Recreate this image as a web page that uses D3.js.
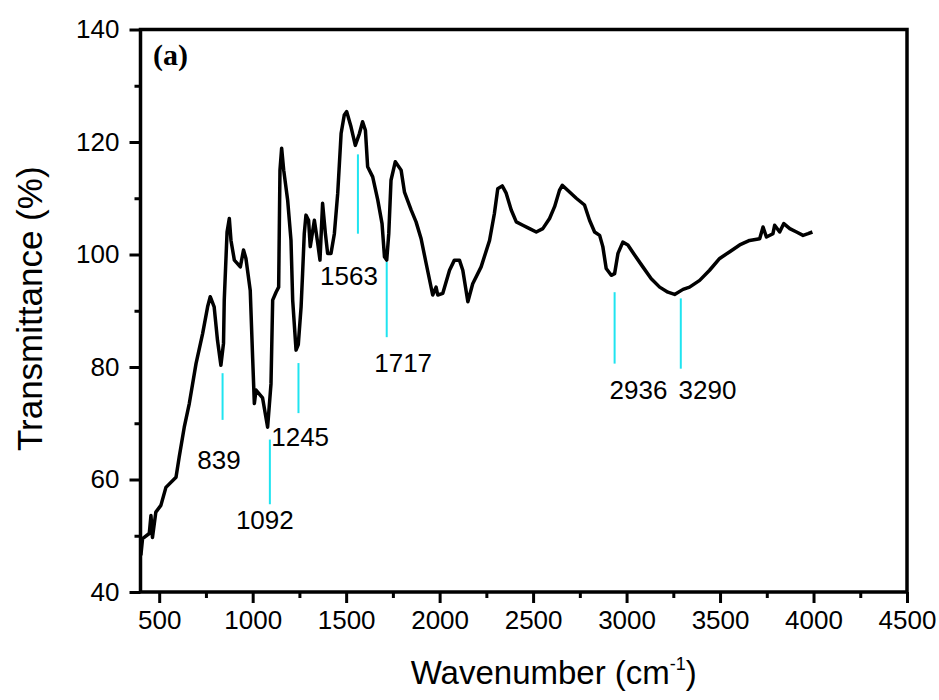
<!DOCTYPE html>
<html>
<head>
<meta charset="utf-8">
<script src="https://cdn.jsdelivr.net/npm/d3@7/dist/d3.min.js"></script>
<style>
  html, body { margin: 0; padding: 0; background: #fff; }
  svg { display: block; }
  text { fill: #000; }
</style>
</head>
<body>
<svg id="chart" width="939" height="700"></svg>
<script>
// FTIR spectrum: wavenumber (cm^-1) and transmittance (%)
const wavenumber = [402, 411, 447, 456, 464, 482, 509, 536, 590, 607, 634, 661, 697, 732, 759, 773, 794, 812, 830, 844,
  848, 863, 875, 884, 902, 934, 951, 964, 987, 1000, 1009, 1018, 1053, 1080, 1098, 1107, 1125, 1139, 1146, 1155,
  1166, 1187, 1205, 1214, 1232, 1244, 1259, 1267, 1276, 1285, 1299, 1308, 1330, 1348, 1360, 1374, 1389, 1401, 1419, 1437,
  1455, 1473, 1490, 1503, 1526, 1549, 1571, 1588, 1603, 1615, 1642, 1669, 1692, 1705, 1717, 1728, 1740, 1763, 1794, 1812,
  1848, 1874, 1901, 1928, 1963, 1981, 1990, 2017, 2053, 2079, 2106, 2124, 2151, 2177, 2222, 2267, 2293, 2311, 2335, 2356,
  2383, 2410, 2445, 2481, 2517, 2552, 2588, 2615, 2641, 2656, 2695, 2731, 2775, 2802, 2829, 2856, 2873, 2891, 2918, 2936,
  2954, 2980, 3007, 3043, 3087, 3132, 3177, 3221, 3257, 3302, 3337, 3391, 3444, 3498, 3552, 3605, 3658, 3712, 3730, 3748,
  3783, 3792, 3819, 3841, 3873, 3909, 3944, 3971, 3994];
const transmittance = [46.5, 49.5, 50.4, 53.6, 49.7, 54.2, 55.4, 58.6, 60.4, 64.0, 69.3, 73.5, 80.6, 85.9, 90.7, 92.5, 90.7, 84.7, 80.3, 84.2,
  91.9, 104.0, 106.4, 102.5, 99.0, 97.8, 100.8, 99.3, 93.6, 81.5, 73.5, 75.9, 74.5, 69.3, 77.0, 91.9, 93.3, 94.2, 115.0, 118.9,
  115.0, 109.7, 102.5, 91.9, 83.0, 84.0, 90.7, 96.6, 103.7, 107.0, 106.1, 101.4, 106.1, 102.0, 99.0, 109.1, 103.7, 100.2, 100.2, 103.7,
  110.9, 121.5, 124.8, 125.4, 122.7, 119.4, 121.5, 123.6, 122.1, 115.6, 113.8, 109.7, 105.5, 99.6, 99.0, 103.7, 113.2, 116.5, 115.0, 111.1,
  107.9, 105.8, 102.8, 98.4, 92.8, 94.2, 92.8, 93.1, 97.2, 99.0, 99.0, 97.2, 91.6, 94.8, 97.8, 102.5, 107.3, 111.7, 112.2, 110.9,
  107.9, 105.8, 105.2, 104.6, 104.0, 104.6, 106.4, 108.5, 111.4, 112.3, 111.1, 110.0, 108.8, 106.1, 104.0, 103.4, 101.4, 97.5, 96.3, 96.6,
  100.2, 102.2, 101.7, 99.9, 97.8, 95.7, 94.2, 93.3, 92.9, 93.8, 94.2, 95.4, 97.2, 99.3, 100.5, 101.7, 102.5, 102.8, 104.9, 103.1,
  103.7, 105.2, 104.0, 105.5, 104.6, 104.0, 103.4, 103.7, 104.0];

// Assigned bands: marker line spans (transmittance, top → bottom) and label anchors
const peakWavenumber = [839, 1092, 1245, 1563, 1717, 2936, 3290];
const peakLineTop    = [78.9, 67.1, 80.7, 117.8, 98.7, 93.3, 92.2];
const peakLineBottom = [70.6, 55.6, 71.8, 103.7, 85.3, 80.6, 79.7];
const peakLabelX     = [820, 1065, 1254, 1515, 1805, 3064, 3433];
const peakLabelY     = [61.9, 51.2, 65.9, 94.5, 79.1, 74.4, 74.4];

// Axis ticks
const xMajorTicks = [500, 1000, 1500, 2000, 2500, 3000, 3500, 4000, 4500];
const xMinorTicks = [750, 1250, 1750, 2250, 2750, 3250, 3750, 4250];
const yMajorTicks = [40, 60, 80, 100, 120, 140];
const yMinorTicks = [50, 70, 90, 110, 130];

const SANS = "'Liberation Sans', Arial, sans-serif";
const SERIF = "'Liberation Serif', 'Times New Roman', serif";

const svg = d3.select("#chart");
const x = d3.scaleLinear().domain([400, 4500]).range([140.5, 907]);
const y = d3.scaleLinear().domain([40, 140]).range([592, 29.5]);

// Minor ticks (no labels)
svg.append("g")
  .attr("transform", `translate(0,${y(40)})`)
  .call(d3.axisBottom(x).tickValues(xMinorTicks).tickSize(6).tickFormat(""))
  .call(g => g.select(".domain").remove())
  .call(g => g.selectAll("line").attr("stroke", "#000").attr("stroke-width", 3));
svg.append("g")
  .attr("transform", `translate(${x(400)},0)`)
  .call(d3.axisLeft(y).tickValues(yMinorTicks).tickSize(6).tickFormat(""))
  .call(g => g.select(".domain").remove())
  .call(g => g.selectAll("line").attr("stroke", "#000").attr("stroke-width", 3));

// Major ticks with labels
svg.append("g")
  .attr("transform", `translate(0,${y(40)})`)
  .call(d3.axisBottom(x).tickValues(xMajorTicks).tickSize(11).tickPadding(8).tickFormat(d3.format("d")))
  .call(g => g.select(".domain").remove())
  .call(g => g.selectAll("line").attr("stroke", "#000").attr("stroke-width", 3))
  .call(g => g.selectAll("text").style("font-size", "26px").style("font-family", SANS).attr("fill", "#000"));
svg.append("g")
  .attr("transform", `translate(${x(400)},0)`)
  .call(d3.axisLeft(y).tickValues(yMajorTicks).tickSize(11).tickPadding(10).tickFormat(d3.format("d")))
  .call(g => g.select(".domain").remove())
  .call(g => g.selectAll("line").attr("stroke", "#000").attr("stroke-width", 3))
  .call(g => g.selectAll("text").style("font-size", "26px").style("font-family", SANS).attr("fill", "#000"));

// Frame
svg.append("rect")
  .attr("x", x(400)).attr("y", y(140))
  .attr("width", x(4500) - x(400)).attr("height", y(40) - y(140))
  .attr("fill", "none").attr("stroke", "#000").attr("stroke-width", 3.5);

// Band marker lines
svg.append("g").selectAll("line")
  .data(peakWavenumber)
  .join("line")
  .attr("x1", d => x(d)).attr("x2", d => x(d))
  .attr("y1", (d, i) => y(peakLineTop[i]))
  .attr("y2", (d, i) => y(peakLineBottom[i]))
  .attr("stroke", "#1fe4f0").attr("stroke-width", 2);

// Spectrum
const points = wavenumber.map((w, i) => [w, transmittance[i]]);
svg.append("path")
  .datum(points)
  .attr("fill", "none")
  .attr("stroke", "#000")
  .attr("stroke-width", 3.5)
  .attr("stroke-linejoin", "round")
  .attr("d", d3.line().x(d => x(d[0])).y(d => y(d[1])));

// Band labels
svg.append("g").selectAll("text")
  .data(peakWavenumber)
  .join("text")
  .attr("x", (d, i) => x(peakLabelX[i]))
  .attr("y", (d, i) => y(peakLabelY[i]))
  .attr("text-anchor", "middle")
  .style("font-family", SANS)
  .style("font-size", "26px")
  .text(d => d);

// Panel tag
svg.append("text")
  .attr("x", 153).attr("y", 65)
  .style("font-family", SERIF)
  .style("font-weight", "bold")
  .style("font-size", "30px")
  .text("(a)");

// Axis titles
const xTitle = svg.append("text")
  .attr("x", (x(400) + x(4500)) / 2 + 30).attr("y", 684)
  .attr("text-anchor", "middle")
  .style("font-family", SANS)
  .style("font-size", "33px");
xTitle.append("tspan").text("Wavenumber (cm");
xTitle.append("tspan").style("font-size", "18px").attr("dy", -14).text("-1");
xTitle.append("tspan").attr("dy", 14).text(")");

svg.append("text")
  .attr("transform", `translate(42,${(y(40) + y(140)) / 2 - 2}) rotate(-90)`)
  .attr("text-anchor", "middle")
  .style("font-family", SANS)
  .style("font-size", "35px")
  .text("Transmittance (%)");
</script>
</body>
</html>
